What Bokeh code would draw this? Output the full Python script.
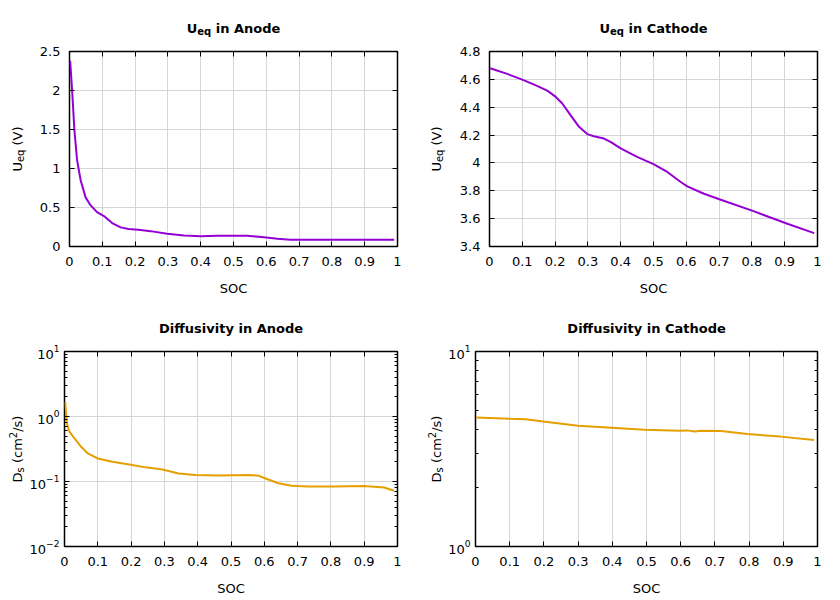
import math
from bokeh.plotting import figure
from bokeh.models import (Range1d, FixedTicker, CustomJSTickFormatter, LinearAxis,
                          LogAxis)
from bokeh.core.properties import value
from bokeh.layouts import row, column
from bokeh.embed import file_html
from bokeh.resources import INLINE

# ---------------- data ----------------
SOC_ANODE_U = [0.002, 0.008, 0.015, 0.023, 0.034, 0.049, 0.064, 0.084, 0.105, 0.13,
               0.156, 0.18, 0.21, 0.247, 0.298, 0.349, 0.4, 0.45, 0.54, 0.593,
               0.634, 0.674, 0.705, 0.8, 0.9, 0.99]
U_ANODE = [2.38, 2.0, 1.49, 1.11, 0.85, 0.63, 0.53, 0.44, 0.39, 0.30,
           0.245, 0.225, 0.214, 0.197, 0.163, 0.142, 0.133, 0.137, 0.137, 0.12,
           0.099, 0.086, 0.086, 0.086, 0.086, 0.086]

SOC_CATHODE_U = [0.002, 0.054, 0.102, 0.145, 0.176, 0.199, 0.222, 0.247, 0.273, 0.298,
                 0.318, 0.349, 0.369, 0.4, 0.45, 0.5, 0.542, 0.583, 0.603, 0.654,
                 0.705, 0.807, 0.908, 0.99]
U_CATHODE = [4.68, 4.639, 4.596, 4.553, 4.519, 4.48, 4.427, 4.343, 4.259, 4.207,
             4.192, 4.175, 4.151, 4.104, 4.044, 3.991, 3.935, 3.863, 3.832, 3.779,
             3.736, 3.652, 3.563, 3.496]

SOC_ANODE_D = [0.002, 0.007, 0.015, 0.03, 0.05, 0.07, 0.1, 0.144, 0.194, 0.244,
               0.294, 0.343, 0.393, 0.463, 0.552, 0.582, 0.602, 0.642, 0.682, 0.731,
               0.811, 0.9, 0.96, 0.99]
D_ANODE = [1.68, 0.78, 0.58, 0.46, 0.342, 0.27, 0.226, 0.201, 0.183, 0.165,
           0.153, 0.133, 0.126, 0.124, 0.126, 0.123, 0.112, 0.094, 0.086, 0.084,
           0.084, 0.085, 0.081, 0.072]

SOC_CATHODE_D = [0.002, 0.1, 0.146, 0.204, 0.3, 0.398, 0.495, 0.597, 0.62, 0.64,
                 0.66, 0.718, 0.795, 0.892, 0.99]
D_CATHODE = [4.59, 4.52, 4.49, 4.36, 4.16, 4.07, 3.97, 3.92, 3.94, 3.89,
             3.92, 3.91, 3.77, 3.66, 3.52]

X_TICKS = [0, 0.1, 0.2, 0.3, 0.4, 0.5, 0.6, 0.7, 0.8, 0.9, 1]
X_LABELS = ["0", "0.1", "0.2", "0.3", "0.4", "0.5", "0.6", "0.7", "0.8", "0.9", "1"]
Y_TICKS_ANODE_U = [0, 0.5, 1, 1.5, 2, 2.5]
Y_LABELS_ANODE_U = ["0", "0.5", "1", "1.5", "2", "2.5"]
Y_TICKS_CATHODE_U = [3.4, 3.6, 3.8, 4, 4.2, 4.4, 4.6, 4.8]
Y_LABELS_CATHODE_U = ["3.4", "3.6", "3.8", "4", "4.2", "4.4", "4.6", "4.8"]
Y_TICKS_ANODE_D = [0.01, 0.1, 1, 10]
Y_MINOR_ANODE_D = [0.02, 0.03, 0.04, 0.05, 0.06, 0.07, 0.08, 0.09,
                   0.2, 0.3, 0.4, 0.5, 0.6, 0.7, 0.8, 0.9,
                   2, 3, 4, 5, 6, 7, 8, 9]
Y_TICKS_CATHODE_D = [1, 10]
Y_MINOR_CATHODE_D = [2, 3, 4, 5, 6, 7, 8, 9]

# text pieces: (text, font px, shift, gap before)
TITLE_ANODE_U = [("U", 13, 0, 0), ("eq", 10, -3, 0), ("in Anode", 13, 0, 4.5)]
TITLE_CATHODE_U = [("U", 13, 0, 0), ("eq", 10, -3, 0), ("in Cathode", 13, 0, 4.5)]
TITLE_ANODE_D = [("Diffusivity in Anode", 13, 0, 0)]
TITLE_CATHODE_D = [("Diffusivity in Cathode", 13, 0, 0)]
YLABEL_U = [("U", 13, 0, 0), ("eq", 10, -2.5, 0), ("(V)", 13, 0, 4.1)]
YLABEL_D = [("D", 13, 0, 0), ("s", 10, -2.5, 0), ("(cm", 13, 0, 4.1),
            ("2", 10, 5, 0), ("/s)", 13, 0, 0)]

PURPLE = "#9400d3"
ORANGE = "#e69f00"
FONT = "DejaVu Sans"
GRID = "#d6d6d6"

# approximate advance widths (em) of DejaVu Sans / DejaVu Sans Bold
REG = {'U': 0.732, 'e': 0.615, 'q': 0.635, ' ': 0.318, '(': 0.390, ')': 0.390,
       'V': 0.684, 'D': 0.770, 's': 0.521, 'c': 0.550, 'm': 0.974, '/': 0.337,
       '2': 0.636}
BOLD = {'U': 0.812, 'e': 0.678, 'q': 0.716, ' ': 0.348, 'i': 0.343, 'n': 0.712,
        'A': 0.774, 'o': 0.687, 'd': 0.716, 'C': 0.734, 'a': 0.675, 't': 0.478,
        'h': 0.712, 'D': 0.833, 'f': 0.435, 'u': 0.712, 's': 0.595, 'v': 0.650,
        'y': 0.650}


def tw(text, size, bold):
    table = BOLD if bold else REG
    return sum(table.get(ch, 0.6) for ch in text) * size


def label_formatter(tick_values, tick_labels):
    return CustomJSTickFormatter(
        args=dict(tv=tick_values, lb=tick_labels),
        code="const i = tv.findIndex(t => Math.abs(t - tick) < 1e-9);"
             "return i >= 0 ? lb[i] : '';")


def blank_formatter():
    return CustomJSTickFormatter(code="return '';")


def style_axis(ax, standoff=8):
    ax.axis_line_color = None
    ax.major_tick_in = 5
    ax.major_tick_out = 0
    ax.minor_tick_in = 3
    ax.minor_tick_out = 0
    ax.major_tick_line_color = "black"
    ax.minor_tick_line_color = "black"
    ax.major_label_text_font = FONT
    ax.major_label_text_font_size = "13px"
    ax.major_label_text_color = "black"
    ax.major_label_standoff = standoff
    ax.axis_label_text_font = FONT
    ax.axis_label_text_font_size = "13px"
    ax.axis_label_text_font_style = "normal"
    ax.axis_label_text_color = "black"


def text_fig(w, h, left=0, right=0):
    """Blank figure; its frame spans [left, w-right] x [0, h], one data unit per pixel."""
    f = figure(width=w, height=h, x_range=Range1d(0, w - left - right), y_range=Range1d(0, h),
               min_border=0, min_border_left=left, min_border_right=right,
               min_border_top=0, min_border_bottom=0,
               x_axis_location=None, y_axis_location=None,
               output_backend="svg", toolbar_location=None, tools="")
    f.grid.visible = False
    f.outline_line_color = None
    f.background_fill_color = "white"
    f.border_fill_color = "white"
    return f


def put_text(f, text, x, y, size, bold=False, angle=0.0):
    f.text(x=[x], y=[y], text=[text], text_font=value(FONT),
           text_font_size=f"{size}px", text_font_style="bold" if bold else "normal",
           text_color="black", angle=angle, text_align="left",
           text_baseline="alphabetic")


def title_fig(w, h, parts, left, right, baseline_from_top):
    f = text_fig(w, h, left, right)
    frame_w = w - left - right
    total = sum(tw(t, s, True) + g for t, s, dy, g in parts)
    x = frame_w / 2 - total / 2
    for t, s, dy, g in parts:
        x += g
        put_text(f, t, x, h - baseline_from_top + dy, s, bold=True)
        x += tw(t, s, True)
    return f


def ylabel_fig(w, h, parts, baseline_x, center_y_from_top):
    # rotated text reading upward; a negative shift moves a part right (subscript)
    f = text_fig(w, h)
    total = sum(tw(t, s, False) + g for t, s, dx, g in parts)
    y = h - center_y_from_top - total / 2
    for t, s, dx, g in parts:
        y += g
        put_text(f, t, baseline_x - dx, y, s, angle=math.pi / 2)
        y += tw(t, s, False)
    return f


def make_panel(width, height, borders, y_log, y_range,
               y_ticks, y_labels=None, y_minor=None):
    left, right, top, bottom = borders
    p = figure(width=width, height=height,
               min_border_left=left, min_border_right=right,
               min_border_top=top, min_border_bottom=bottom,
               x_range=Range1d(0, 1), y_range=Range1d(*y_range),
               y_axis_type="log" if y_log else "linear",
               output_backend="svg", toolbar_location=None, tools="")
    p.background_fill_color = "white"
    p.border_fill_color = "white"
    p.outline_line_color = "black"
    p.outline_line_width = 1.5
    p.outline_line_alpha = 1.0

    xt = FixedTicker(ticks=X_TICKS)
    if y_minor is not None:
        yt = FixedTicker(ticks=y_ticks, minor_ticks=y_minor)
    else:
        yt = FixedTicker(ticks=y_ticks)

    xa = p.xaxis[0]
    xa.ticker = xt
    xa.formatter = label_formatter(X_TICKS, X_LABELS)
    xa.axis_label = "SOC"
    style_axis(xa, standoff=10)
    xa.axis_label_standoff = 12

    ya = p.yaxis[0]
    ya.ticker = yt
    if y_labels is not None:
        ya.formatter = label_formatter(y_ticks, y_labels)
    style_axis(ya, standoff=5 if y_log else 9)

    top_ax = LinearAxis(ticker=xt, formatter=blank_formatter())
    style_axis(top_ax, standoff=0)
    p.add_layout(top_ax, "above")
    if y_log:
        right_ax = LogAxis(ticker=yt, formatter=blank_formatter())
    else:
        right_ax = LinearAxis(ticker=yt, formatter=blank_formatter())
    style_axis(right_ax, standoff=0)
    p.add_layout(right_ax, "right")

    p.xgrid.ticker = xt
    p.ygrid.ticker = yt
    for g in (p.xgrid[0], p.ygrid[0]):
        g.grid_line_color = GRID
        g.grid_line_width = 1
    return p


FH = 195
TITLE_H = 41
TOP_IN = 10  # main figure's own top border below the title strip
TITLE_BASELINE = 28


def assemble(main, wl, h, ylabel_parts, ylabel_x, title_parts, main_w, main_left, main_right):
    yl = ylabel_fig(wl, h, ylabel_parts, ylabel_x, TITLE_H + TOP_IN + FH / 2)
    tf = title_fig(main_w, TITLE_H, title_parts, main_left, main_right, TITLE_BASELINE)
    return row(yl, column(tf, main))


# ---------------- top left: U_eq anode (panel 0..424) ----------------
p1 = make_panel(396, 300 - TITLE_H, (41, 27, TOP_IN, 54), False, (0, 2.5),
                Y_TICKS_ANODE_U, Y_LABELS_ANODE_U)
p1.line(SOC_ANODE_U, U_ANODE, line_color=PURPLE, line_width=2)
panel1 = assemble(p1, 28, 300, YLABEL_U, 17, TITLE_ANODE_U, 396, 41, 27)

# ---------------- top right: U_eq cathode (panel 424..832) ----------------
p2 = make_panel(385, 300 - TITLE_H, (42, 15, TOP_IN, 54), False, (3.4, 4.8),
                Y_TICKS_CATHODE_U, Y_LABELS_CATHODE_U)
p2.line(SOC_CATHODE_U, U_CATHODE, line_color=PURPLE, line_width=2)
panel2 = assemble(p2, 23, 300, YLABEL_U, 12, TITLE_CATHODE_U, 385, 42, 15)

# ---------------- bottom left: D anode ----------------
p3 = make_panel(398, 298 - TITLE_H, (36, 27, TOP_IN, 52), True, (0.01, 10),
                Y_TICKS_ANODE_D, None, Y_MINOR_ANODE_D)
p3.line(SOC_ANODE_D, D_ANODE, line_color=ORANGE, line_width=2)
panel3 = assemble(p3, 26, 298, YLABEL_D, 17, TITLE_ANODE_D, 398, 36, 27)

# ---------------- bottom right: D cathode ----------------
p4 = make_panel(387, 298 - TITLE_H, (28, 15, TOP_IN, 52), True, (1, 10),
                Y_TICKS_CATHODE_D, None, Y_MINOR_CATHODE_D)
p4.line(SOC_CATHODE_D, D_CATHODE, line_color=ORANGE, line_width=2)
panel4 = assemble(p4, 21, 298, YLABEL_D, 12, TITLE_CATHODE_D, 387, 28, 15)

layout = column(row(panel1, panel2), row(panel3, panel4))
open("out.html", "w").write(file_html(layout, INLINE))
